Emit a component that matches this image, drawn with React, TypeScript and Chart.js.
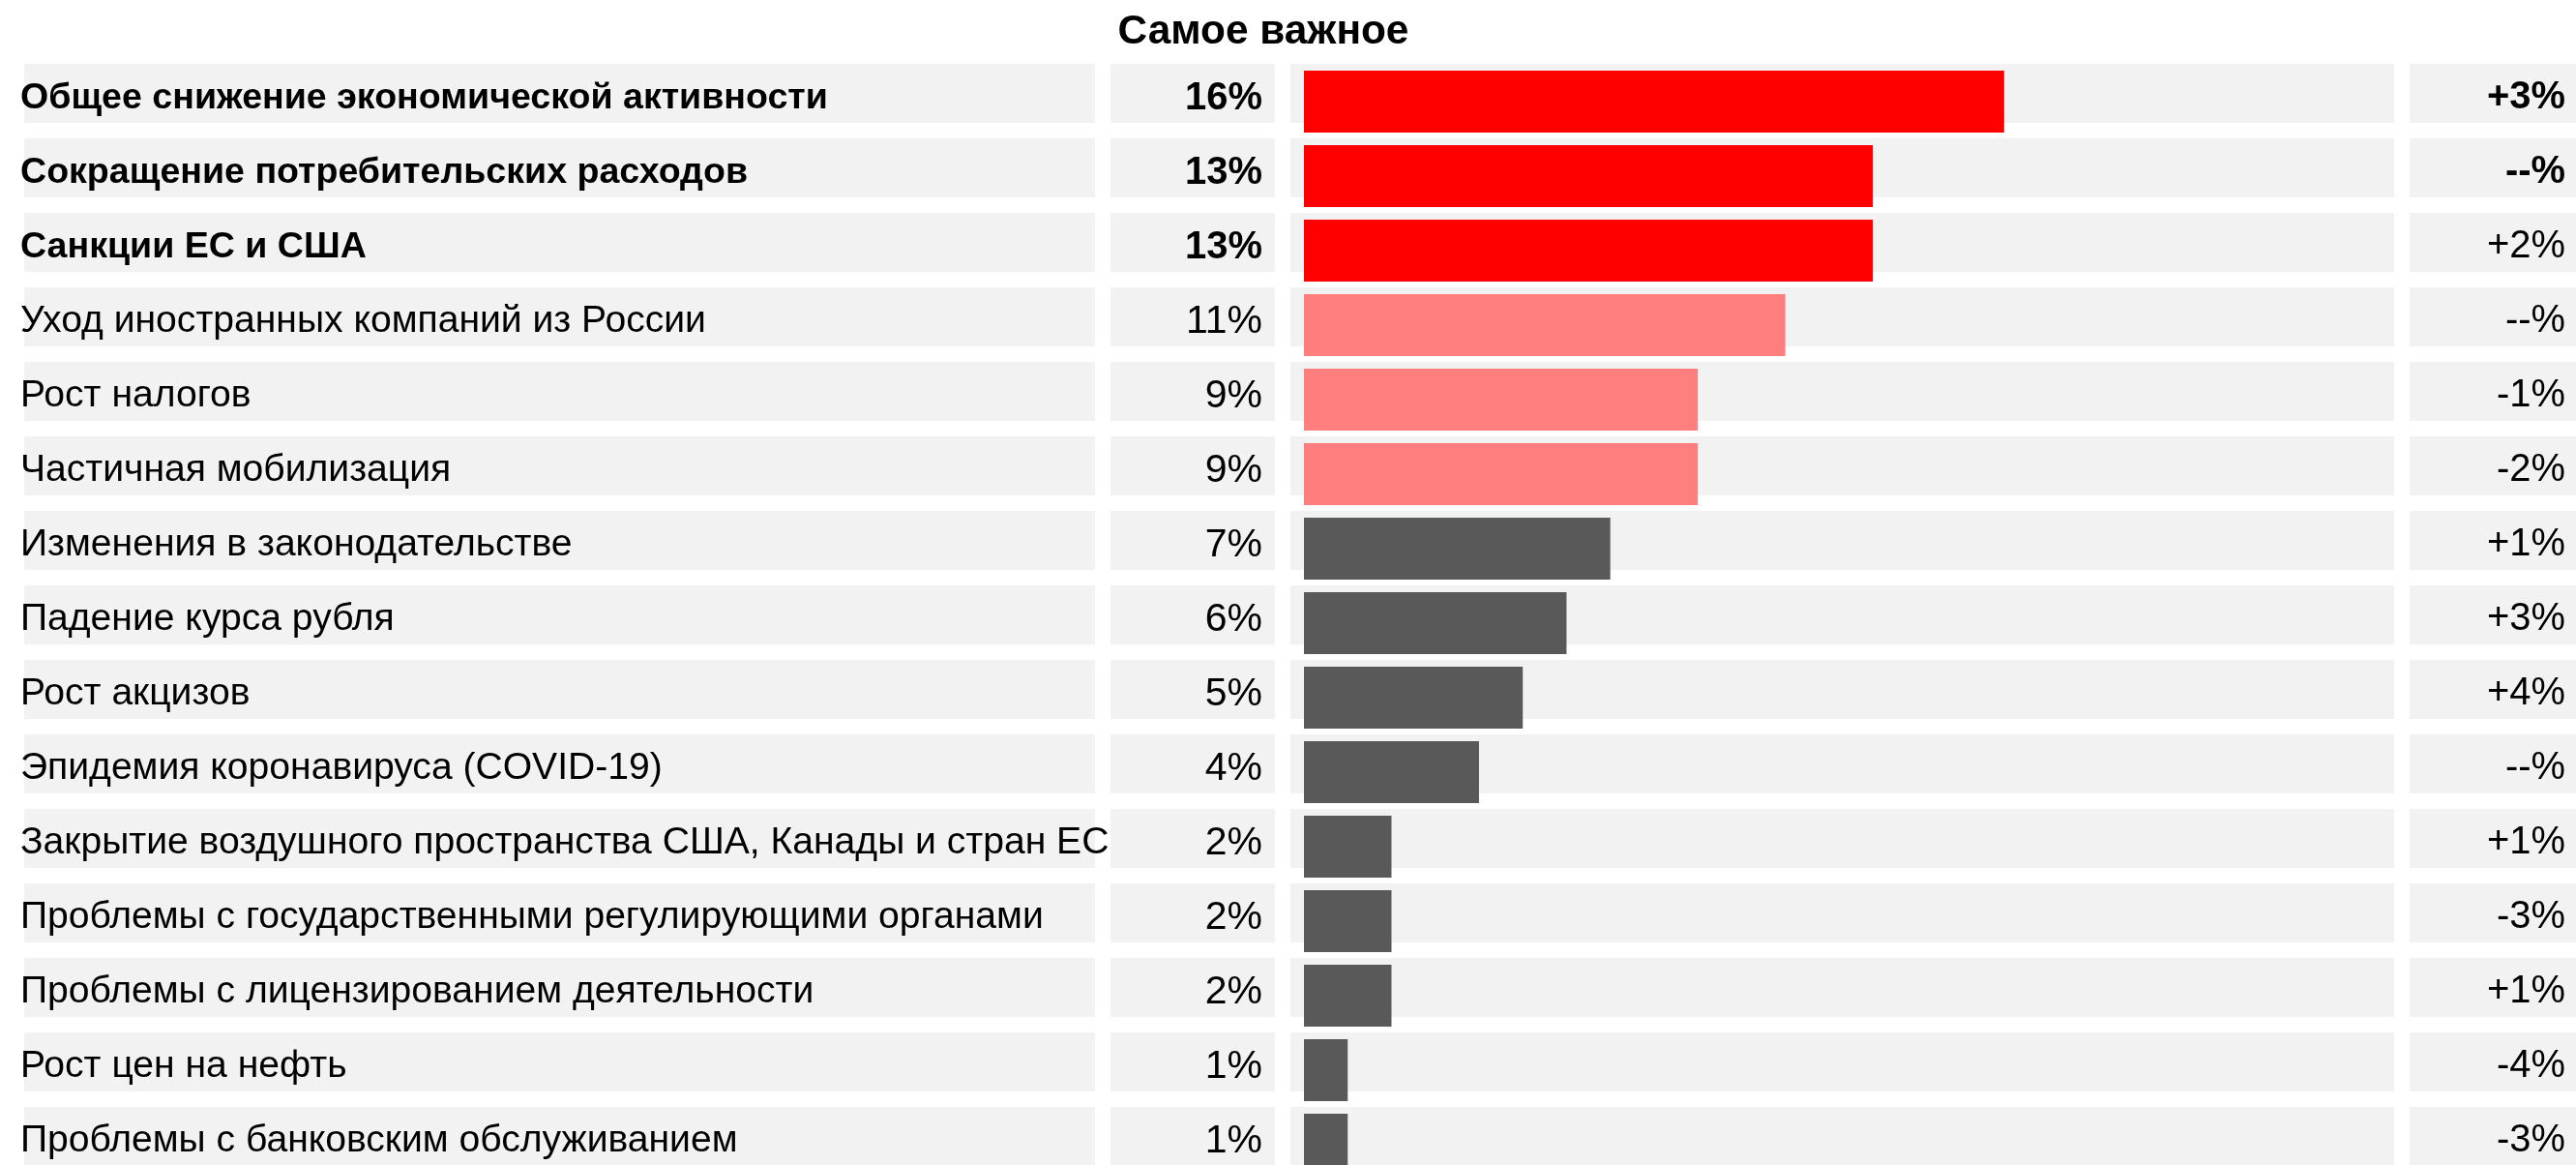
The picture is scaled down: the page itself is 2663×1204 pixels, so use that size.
import React, { useEffect, useRef } from "react";
import { Chart, registerables } from "chart.js";

Chart.register(...registerables);

const title = "Самое важное";

const categories = [
  "Общее снижение экономической активности",
  "Сокращение потребительских расходов",
  "Санкции ЕС и США",
  "Уход иностранных компаний из России",
  "Рост налогов",
  "Частичная мобилизация",
  "Изменения в законодательстве",
  "Падение курса рубля",
  "Рост акцизов",
  "Эпидемия коронавируса (COVID-19)",
  "Закрытие воздушного пространства США, Канады и стран ЕС",
  "Проблемы с государственными регулирующими органами",
  "Проблемы с лицензированием деятельности",
  "Рост цен на нефть",
  "Проблемы с банковским обслуживанием",
];

const values = [16, 13, 13, 11, 9, 9, 7, 6, 5, 4, 2, 2, 2, 1, 1];

const deltaLabels = [
  "+3%", "--%", "+2%", "--%", "-1%", "-2%", "+1%", "+3%", "+4%", "--%", "+1%", "-3%", "+1%", "-4%", "-3%",
];

const boldLabelRows = [true, true, true, false, false, false, false, false, false, false, false, false, false, false, false];
const boldDeltaRows = [true, true, false, false, false, false, false, false, false, false, false, false, false, false, false];

const barColors = [
  "#FF0000", "#FF0000", "#FF0000",
  "#FF7F7F", "#FF7F7F", "#FF7F7F",
  "#595959", "#595959", "#595959", "#595959", "#595959", "#595959", "#595959", "#595959", "#595959",
];

const FAMILY = "'Liberation Sans', Arial, sans-serif";
const W = 2663;
const H = 1240;

function fitSize(ctx: CanvasRenderingContext2D, text: string, weight: string, target: number) {
  ctx.font = `${weight} 100px ${FAMILY}`;
  const w = ctx.measureText(text).width;
  return (100 * target) / w;
}

const tablePlugin = {
  id: "tablePlugin",
  beforeDatasetsDraw(chart: any) {
    const ctx: CanvasRenderingContext2D = chart.ctx;
    const yScale = chart.scales.y;
    ctx.save();
    ctx.fillStyle = "#F2F2F2";
    categories.forEach((_, i) => {
      const yc = yScale.getPixelForValue(i);
      const top = yc - 39;
      const h = 61;
      ctx.fillRect(25, top, 1132 - 25, h);
      ctx.fillRect(1148, top, 1318 - 1148, h);
      ctx.fillRect(1334, top, 2475 - 1334, h);
      ctx.fillRect(2491, top, W - 2491, h);
    });
    ctx.restore();
  },
  afterDatasetsDraw(chart: any) {
    const ctx: CanvasRenderingContext2D = chart.ctx;
    const yScale = chart.scales.y;
    ctx.save();
    const boldLabel = fitSize(ctx, categories[0], "bold", 835);
    const regLabel = fitSize(ctx, categories[11], "normal", 1058);
    const boldPct = fitSize(ctx, "16%", "bold", 80);
    const regPct = fitSize(ctx, "11%", "normal", 79);
    const boldDelta = fitSize(ctx, "+3%", "bold", 81);
    const regDelta = fitSize(ctx, "-4%", "normal", 71);
    const titleSize = fitSize(ctx, title, "bold", 301);

    ctx.fillStyle = "#000000";
    ctx.textBaseline = "alphabetic";

    ctx.textAlign = "center";
    ctx.font = `bold ${titleSize}px ${FAMILY}`;
    ctx.fillText(title, 1306, 45);

    categories.forEach((label, i) => {
      const yc = yScale.getPixelForValue(i);
      const base = yc - 39 + 46;
      const b = boldLabelRows[i];
      ctx.textAlign = "left";
      ctx.font = `${b ? "bold" : "normal"} ${b ? boldLabel : regLabel}px ${FAMILY}`;
      ctx.fillText(label, 21, base);

      ctx.textAlign = "right";
      ctx.font = `${b ? "bold" : "normal"} ${b ? boldPct : regPct}px ${FAMILY}`;
      ctx.fillText(`${values[i]}%`, 1305, base + 1);

      const bd = boldDeltaRows[i];
      ctx.font = `${bd ? "bold" : "normal"} ${bd ? boldDelta : regDelta}px ${FAMILY}`;
      ctx.fillText(deltaLabels[i], 2652, base);
    });
    ctx.restore();
  },
};

export default function App() {
  const canvasRef = useRef<HTMLCanvasElement | null>(null);

  useEffect(() => {
    const canvas = canvasRef.current;
    if (!canvas) return;
    const chart = new Chart(canvas, {
      type: "bar",
      data: {
        labels: categories,
        datasets: [
          {
            data: values,
            backgroundColor: barColors,
            borderWidth: 0,
            categoryPercentage: 1,
            barPercentage: 64 / 77,
          },
        ],
      },
      options: {
        indexAxis: "y",
        animation: false,
        responsive: false,
        maintainAspectRatio: false,
        devicePixelRatio: 1,
        layout: {
          padding: { left: 1348, right: W - 2479, top: 66.5, bottom: H - 1221.5 },
        },
        scales: {
          x: { type: "linear", min: 0, max: 25, display: false, grid: { display: false } },
          y: { type: "category", display: false, offset: true, grid: { display: false } },
        },
        plugins: {
          legend: { display: false },
          tooltip: { enabled: false },
          title: { display: false },
        },
      },
      plugins: [tablePlugin],
    });
    return () => chart.destroy();
  }, []);

  return (
    <div
      style={{
        position: "fixed",
        left: 0,
        top: 0,
        width: W,
        height: 1204,
        overflow: "hidden",
        background: "#ffffff",
      }}
    >
      <canvas ref={canvasRef} width={W} height={H} style={{ display: "block", width: W, height: H }} />
    </div>
  );
}
